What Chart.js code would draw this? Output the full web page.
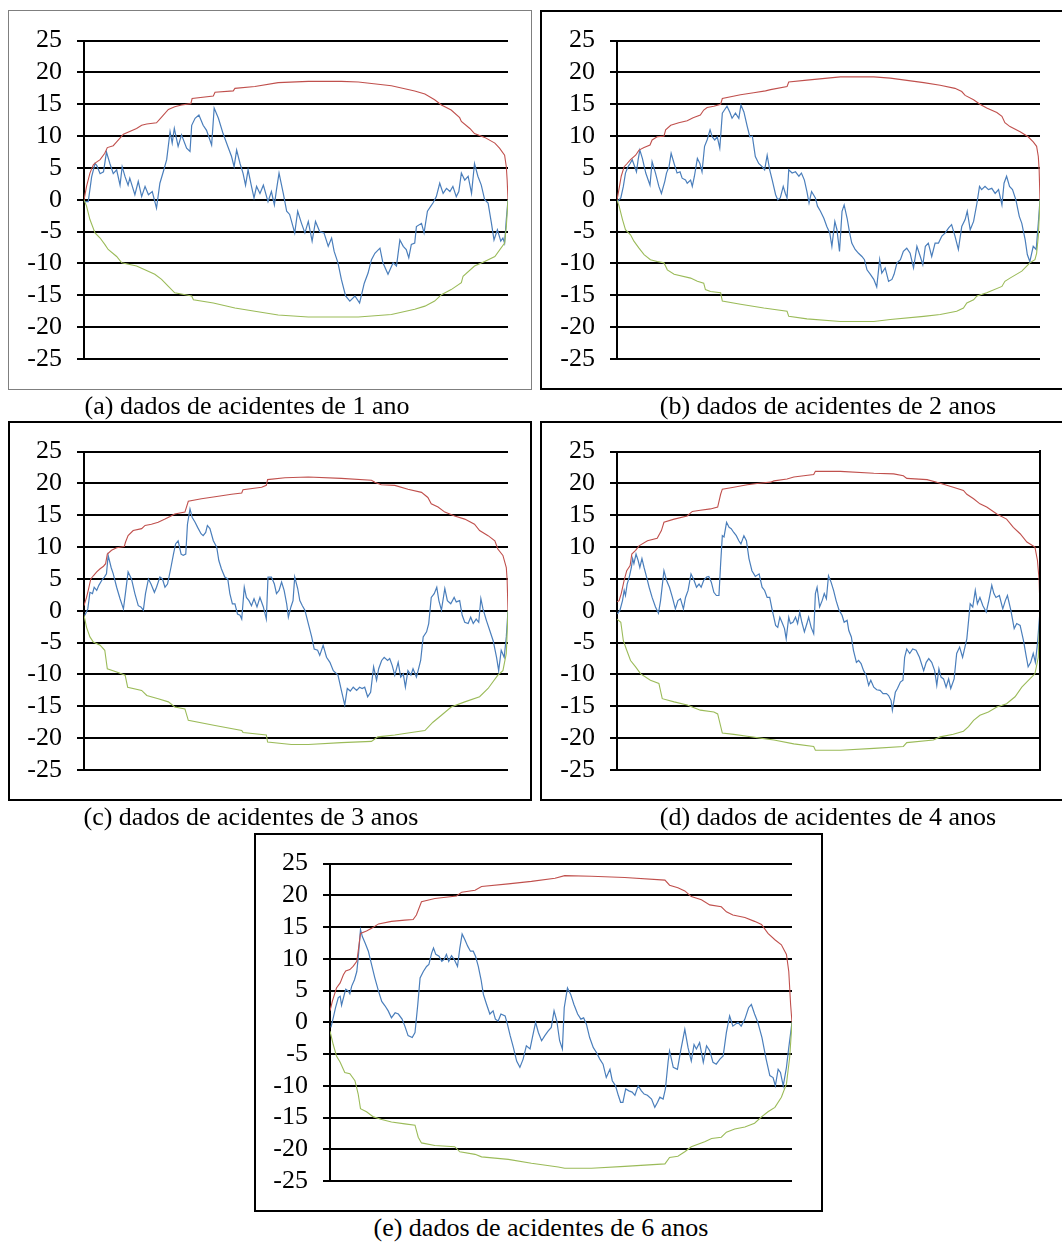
<!DOCTYPE html>
<html>
<head>
<meta charset="utf-8">
<script src="https://cdn.jsdelivr.net/npm/chart.js@4.4.0/dist/chart.umd.min.js"></script>
<style>
  body { margin: 0; background: #fff; width: 1062px; height: 1242px; overflow: hidden; position: relative; font-family: 'Liberation Serif', 'Times New Roman', serif; }
  .box { position: absolute; box-sizing: border-box; pointer-events: none; }
  .cap { position: absolute; width: 600px; font-size: 26px; line-height: 26px; color: #000; text-align: center; white-space: nowrap; }
  canvas { position: absolute; }
</style>
</head>
<body>
<script>
// y axis
const yMin = -25, yMax = 25, yStep = 5;

// x = percent of the period, y = value
const blueA = [[0.2,-0.3],[1.0,-0.3],[1.8,3.6],[2.6,5.7],[3.0,5.4],[3.8,4.1],[4.6,4.4],[5.3,7.5],[6.1,5.7],[6.9,4.1],[7.7,4.7],[8.5,2.3],[9.0,5.2],[9.7,3.6],[10.4,2.3],[10.8,3.4],[12.0,0.8],[12.8,2.9],[13.6,0.5],[14.4,2.1],[15.2,0.8],[16.1,1.3],[17.1,-1.3],[17.9,2.6],[18.7,4.4],[19.5,6.3],[20.3,10.7],[20.8,8.9],[21.3,11.2],[22.2,8.4],[23.0,10.2],[24.2,8.1],[25.0,7.6],[25.4,11.7],[26.2,12.8],[27.1,13.3],[28.1,11.7],[28.9,10.9],[30.1,8.6],[30.7,14.4],[31.7,12.8],[32.8,10.4],[33.9,8.4],[34.8,6.8],[35.4,5.2],[36.0,7.8],[36.8,5.7],[37.5,4.2],[38.1,2.3],[38.7,4.7],[39.5,2.1],[40.1,0.3],[40.7,2.1],[41.5,1.0],[42.3,2.3],[43.4,-0.3],[44.2,1.3],[44.9,-0.8],[45.4,1.6],[46.0,4.2],[47.0,1.0],[47.8,-1.8],[48.5,-2.3],[49.7,-5.2],[50.4,-1.8],[51.3,-3.7],[52.1,-5.2],[52.9,-3.4],[53.8,-6.5],[54.6,-3.4],[55.6,-5.0],[56.6,-5.2],[57.6,-7.3],[58.4,-6.0],[59.0,-8.1],[59.9,-9.9],[60.7,-12.5],[61.7,-15.1],[62.7,-15.9],[63.9,-15.1],[65.0,-16.2],[66.1,-13.1],[67.0,-11.5],[67.8,-9.4],[68.6,-8.4],[69.8,-7.6],[70.5,-9.9],[71.7,-11.7],[72.9,-9.9],[73.7,-10.4],[74.5,-6.3],[75.3,-7.3],[76.0,-7.8],[76.6,-9.1],[77.2,-7.0],[78.0,-6.8],[78.4,-4.2],[79.6,-3.7],[80.2,-5.2],[81.0,-1.8],[81.8,-1.0],[82.3,-0.5],[83.1,0.5],[83.9,2.6],[84.7,1.0],[85.5,1.8],[86.3,1.3],[87.0,2.1],[87.8,0.5],[88.4,1.3],[89.0,4.2],[89.8,3.1],[90.6,3.7],[91.4,1.0],[92.1,5.7],[92.9,3.7],[93.7,2.3],[94.5,0.0],[95.3,-0.5],[96.1,-3.7],[96.7,-6.3],[97.5,-4.7],[98.3,-6.5],[98.8,-6.0],[99.2,-6.8],[99.6,-3.1],[100,0.0]];
const redA = [[0,0],[0.6,2.1],[1.4,4.2],[2.2,5.5],[2.7,5.8],[3.8,6.3],[4.9,7.3],[5.5,8.2],[6.9,8.5],[7.7,9.1],[8.9,10.0],[9.3,10.3],[12.4,11.2],[13.6,11.7],[14.8,11.9],[17.1,12.1],[18.3,13.0],[19.9,14.2],[21.4,14.6],[23.0,14.9],[25.2,15.1],[25.5,15.9],[30.5,16.3],[30.9,16.9],[35.2,17.1],[35.6,17.5],[40.3,17.8],[45.8,18.4],[52.9,18.6],[60.7,18.6],[64.7,18.5],[72.5,17.9],[78.0,17.1],[80.4,16.6],[82.7,15.7],[84.3,14.9],[86.6,14.1],[88.6,12.9],[89.0,12.3],[91.0,11.2],[92.1,10.4],[94.5,9.8],[96.9,8.9],[98.0,8.1],[99.2,7.0],[99.6,5.2],[99.8,3.1],[100,0]];
const greenA = [[0,0],[0.6,-1.0],[1.4,-3.1],[2.6,-5.2],[3.8,-6.0],[4.9,-7.0],[5.7,-7.8],[7.7,-8.9],[8.9,-9.9],[12.4,-10.4],[16.7,-11.7],[18.3,-12.5],[19.9,-13.6],[21.4,-14.6],[25.4,-15.1],[25.8,-15.7],[30.5,-16.2],[35.6,-17.0],[40.3,-17.5],[45.8,-18.1],[52.9,-18.4],[64.7,-18.4],[72.5,-18.0],[78.0,-17.2],[80.4,-16.7],[82.7,-15.9],[84.3,-14.9],[86.6,-14.1],[89.0,-13.0],[89.4,-12.0],[92.1,-10.4],[94.5,-9.7],[96.9,-8.9],[99.2,-6.8],[99.6,-4.2],[100,0]];

const blueB = [[0.1,-0.3],[0.9,0.3],[1.5,2.1],[2.0,4.2],[2.6,5.2],[3.1,5.7],[3.6,6.3],[4.2,5.2],[4.6,4.4],[5.0,6.3],[5.4,7.8],[6.0,6.5],[6.8,4.2],[7.8,2.3],[8.3,6.0],[9.1,4.2],[9.9,2.1],[10.5,1.0],[11.3,2.9],[11.7,4.2],[12.3,5.2],[12.8,7.3],[13.5,5.7],[14.2,4.2],[14.9,4.4],[15.4,3.4],[16.2,3.1],[16.6,2.6],[17.4,3.1],[17.8,2.1],[18.3,3.7],[19.0,6.5],[19.6,5.7],[20.1,4.4],[20.7,8.4],[21.3,9.4],[22.0,11.0],[22.5,9.9],[23.1,9.4],[23.7,9.9],[24.3,8.1],[24.9,13.6],[25.4,14.1],[26.0,14.7],[26.7,13.7],[27.2,12.8],[28.0,13.6],[28.8,12.8],[29.3,14.9],[30.0,13.8],[30.8,11.5],[31.4,9.9],[32.0,10.0],[32.7,6.8],[33.5,5.7],[34.3,5.2],[34.9,4.7],[35.5,7.0],[36.1,4.7],[36.7,3.1],[37.5,0.8],[38.0,0.0],[38.6,0.3],[39.3,2.1],[39.8,1.0],[40.2,0.3],[40.6,4.7],[41.4,4.2],[42.2,4.4],[43.0,3.7],[43.6,4.2],[44.3,3.1],[44.9,1.3],[45.4,-0.5],[46.0,1.3],[46.9,0.3],[47.4,-1.0],[48.1,-1.8],[48.9,-2.9],[49.6,-4.2],[50.3,-5.2],[50.8,-7.3],[51.5,-3.4],[52.0,-4.7],[52.6,-8.1],[53.2,-1.8],[53.7,-0.8],[54.4,-2.9],[55.0,-5.2],[55.5,-6.8],[56.3,-7.8],[57.1,-8.4],[57.9,-8.9],[58.5,-9.4],[59.1,-11.0],[59.9,-11.7],[60.7,-12.5],[61.4,-13.7],[62.1,-9.4],[62.6,-11.5],[63.4,-10.7],[64.2,-12.8],[65.0,-12.5],[65.5,-11.7],[66.2,-9.9],[67.0,-9.4],[67.7,-8.1],[68.5,-7.6],[69.3,-8.4],[70.1,-10.7],[70.9,-7.3],[71.7,-8.9],[72.3,-10.2],[72.9,-7.3],[73.6,-6.8],[74.4,-8.9],[75.2,-6.8],[76.0,-6.8],[76.8,-5.7],[77.6,-5.2],[78.4,-4.4],[79.1,-3.9],[79.9,-5.7],[80.7,-7.8],[81.5,-4.2],[82.3,-3.1],[82.8,-1.8],[83.5,-4.7],[84.3,-3.4],[85.1,-0.5],[85.7,2.1],[86.2,1.6],[87.0,2.1],[87.8,1.6],[88.6,1.8],[89.4,1.0],[90.2,1.6],[91.0,-0.8],[91.5,2.6],[92.1,3.7],[92.8,2.1],[93.5,1.6],[94.3,0.0],[95.1,-2.6],[95.7,-3.7],[96.5,-6.3],[97.0,-8.6],[97.6,-9.7],[98.4,-7.3],[99.1,-7.8],[99.6,-3.7],[100,0.0]];
const redB = [[0,0],[0.5,1.8],[1.0,3.7],[1.7,5.2],[2.4,5.7],[3.2,6.3],[4.4,7.0],[5.2,7.8],[6.4,8.2],[7.8,8.6],[8.3,9.4],[9.5,9.9],[11.1,10.0],[11.5,11.0],[12.7,11.7],[14.6,12.1],[16.6,12.4],[18.0,12.9],[19.7,13.3],[20.5,14.1],[21.3,14.5],[22.9,14.7],[24.5,15.0],[24.9,15.9],[29.2,16.5],[32.3,16.8],[35.1,17.1],[36.3,17.3],[40.2,17.8],[40.6,18.5],[44.9,18.8],[52.8,19.3],[60.7,19.3],[64.6,19.1],[72.5,18.4],[76.4,18.0],[79.9,17.5],[81.5,17.0],[82.3,16.4],[84.3,15.7],[85.8,15.0],[87.4,14.4],[89.8,13.7],[91.0,13.1],[91.7,12.1],[92.9,11.5],[95.3,10.7],[97.2,9.9],[98.4,9.1],[99.2,8.4],[99.6,6.8],[99.8,4.7],[100,0]];
const greenB = [[0,0],[0.5,-1.0],[1.3,-3.1],[2.0,-4.7],[3.2,-5.5],[4.0,-6.5],[5.2,-7.6],[6.4,-8.6],[7.9,-9.4],[9.5,-9.7],[11.1,-9.9],[11.9,-11.0],[13.5,-11.7],[17.4,-12.3],[19.0,-12.8],[20.5,-13.1],[20.9,-14.1],[22.1,-14.4],[24.5,-14.6],[24.9,-15.9],[29.2,-16.4],[34.7,-17.0],[40.2,-17.5],[40.6,-18.3],[44.9,-18.7],[52.8,-19.1],[60.7,-19.1],[64.6,-18.8],[72.5,-18.3],[76.4,-18.0],[80.3,-17.5],[81.9,-17.0],[82.7,-16.2],[84.3,-15.7],[85.1,-15.1],[87.4,-14.6],[91.0,-13.6],[91.7,-12.8],[92.9,-12.3],[95.7,-11.2],[97.6,-9.9],[98.8,-9.4],[99.2,-8.4],[99.6,-5.7],[100,0]];

const blueC = [[0.2,-0.7],[0.9,0.3],[1.4,2.9],[2.0,2.7],[2.4,3.7],[3.0,3.2],[3.5,4.0],[4.2,4.8],[4.8,5.3],[5.3,5.8],[5.7,8.7],[6.4,6.8],[6.9,5.8],[7.7,3.7],[8.5,1.9],[9.3,0.3],[9.8,2.9],[10.4,6.1],[11.2,5.0],[12.0,2.7],[12.8,0.8],[13.4,0.6],[14.0,0.1],[14.5,2.7],[15.2,5.0],[15.8,4.2],[16.6,2.9],[17.1,3.7],[17.9,5.3],[18.5,5.0],[19.1,3.7],[19.7,4.2],[20.5,6.8],[21.1,8.9],[21.6,10.5],[22.2,11.0],[22.9,8.9],[23.4,8.7],[24.0,8.9],[24.4,13.6],[25.0,16.0],[25.5,14.7],[26.2,13.9],[26.8,13.1],[27.6,12.1],[28.1,11.8],[28.7,12.3],[29.1,13.4],[29.7,12.9],[30.5,11.0],[31.3,10.0],[31.8,7.9],[32.4,6.6],[33.2,5.3],[33.9,5.0],[34.4,2.7],[35.0,1.1],[35.6,1.1],[36.2,-0.5],[36.8,-0.7],[37.2,-1.3],[37.8,3.7],[38.3,2.1],[38.9,1.6],[39.5,0.8],[40.1,1.9],[40.8,0.6],[41.5,2.1],[42.3,0.6],[43.0,-1.3],[43.4,5.3],[44.2,5.3],[44.9,4.2],[45.4,2.7],[46.0,3.2],[46.6,4.5],[47.2,3.2],[47.8,1.1],[48.2,-1.0],[48.8,0.6],[49.3,1.6],[49.7,5.3],[50.4,3.5],[50.9,1.6],[51.5,0.8],[52.1,0.1],[52.9,-2.0],[53.7,-4.1],[54.3,-6.0],[55.1,-6.2],[55.6,-7.0],[56.4,-5.4],[57.2,-7.3],[58.0,-8.1],[58.8,-9.4],[59.9,-10.1],[60.7,-12.5],[61.5,-14.8],[62.1,-12.2],[62.8,-12.6],[63.5,-12.0],[64.3,-12.5],[65.0,-12.0],[65.6,-12.2],[66.2,-12.0],[66.9,-13.5],[67.6,-12.8],[68.3,-8.8],[69.0,-10.9],[69.5,-9.1],[70.2,-7.8],[70.8,-7.3],[71.6,-7.8],[72.1,-7.5],[72.7,-8.6],[73.3,-10.1],[74.1,-8.1],[74.7,-10.4],[75.3,-9.9],[75.8,-12.0],[76.4,-9.4],[77.1,-10.1],[77.6,-9.1],[78.4,-10.4],[78.8,-9.4],[79.4,-7.8],[80.0,-4.1],[80.8,-3.3],[81.3,-2.0],[81.9,2.1],[82.6,2.7],[83.2,3.7],[83.7,1.6],[84.3,0.1],[85.1,3.5],[85.7,1.6],[86.5,1.1],[87.3,2.1],[87.8,1.4],[88.6,1.6],[89.2,-0.7],[89.8,-1.8],[90.6,-2.0],[91.2,-1.0],[91.8,-2.0],[92.5,-1.3],[93.1,-1.8],[93.6,1.9],[94.1,0.3],[94.9,-1.5],[95.7,-3.1],[96.5,-4.7],[97.3,-7.3],[97.8,-9.4],[98.4,-6.2],[99.1,-7.3],[99.6,-4.1],[100,0.0]];
const redC = [[0,0.8],[0.6,2.1],[1.0,3.2],[1.6,5.0],[2.2,5.5],[3.0,6.1],[3.8,6.6],[4.6,7.0],[5.1,7.4],[5.5,8.9],[6.5,9.5],[7.7,9.9],[9.5,10.1],[9.8,10.8],[10.4,11.8],[11.6,12.6],[13.6,12.9],[14.4,13.4],[15.9,13.6],[17.5,13.9],[19.1,14.4],[20.3,14.8],[21.4,15.2],[23.8,15.5],[24.6,17.2],[27.7,17.6],[30.9,17.9],[34.8,18.3],[37.2,18.5],[37.5,19.0],[41.9,19.4],[43.0,19.7],[43.3,20.6],[47.4,20.9],[52.9,21.0],[60.7,20.8],[67.8,20.5],[68.6,20.2],[70.1,19.8],[73.3,19.7],[76.4,19.1],[79.6,18.6],[81.1,17.8],[81.9,16.8],[83.5,16.3],[85.1,15.5],[87.4,14.9],[89.8,14.4],[92.1,13.6],[93.3,12.6],[95.3,11.8],[96.9,11.0],[97.6,9.7],[98.8,8.7],[99.6,6.8],[99.8,4.8],[100,0]];
const greenC = [[0,-0.7],[0.6,-2.6],[1.4,-4.1],[2.2,-4.9],[3.8,-5.4],[4.9,-6.2],[5.5,-9.1],[7.7,-9.6],[9.7,-10.1],[10.3,-12.0],[13.6,-12.5],[14.8,-13.3],[17.5,-13.8],[19.9,-14.3],[21.4,-15.1],[23.8,-15.4],[24.6,-17.2],[30.9,-18.0],[37.2,-18.8],[37.5,-19.1],[43.0,-19.5],[43.3,-20.6],[48.9,-21.0],[52.9,-21.0],[60.7,-20.7],[67.8,-20.5],[69.3,-19.8],[73.3,-19.5],[76.4,-19.2],[80.4,-18.8],[82.3,-17.5],[84.3,-16.4],[86.6,-15.1],[89.8,-14.3],[93.3,-13.5],[95.3,-12.2],[97.6,-10.1],[98.8,-9.4],[99.6,-6.7],[100,0]];

const blueD = [[0.1,-0.5],[0.7,0.1],[1.3,1.6],[1.7,3.2],[2.0,2.4],[2.4,4.2],[2.9,5.3],[3.4,6.8],[3.7,8.2],[4.0,7.4],[4.5,8.9],[5.0,7.9],[5.4,6.8],[5.9,8.2],[6.4,6.8],[7.0,5.3],[7.6,3.7],[8.3,2.1],[9.1,0.6],[9.8,-0.4],[10.3,1.6],[11.1,6.3],[11.7,4.8],[12.4,3.7],[13.1,2.1],[13.8,0.3],[14.4,1.6],[15.0,1.9],[15.7,0.3],[16.2,2.1],[16.8,3.2],[17.5,5.8],[18.2,4.8],[18.8,3.7],[19.4,4.2],[19.9,3.7],[20.5,4.8],[21.2,5.3],[21.7,5.4],[22.3,4.5],[22.9,2.9],[23.5,2.4],[24.1,2.4],[24.5,7.4],[24.9,11.8],[25.3,11.6],[25.9,13.9],[26.5,13.1],[27.0,12.9],[27.6,12.3],[28.2,11.8],[28.8,11.0],[29.3,10.5],[30.0,11.8],[30.6,11.0],[31.2,8.2],[31.9,6.3],[32.7,5.4],[33.6,5.8],[34.3,3.7],[34.9,3.2],[35.5,2.1],[36.1,2.1],[36.7,0.1],[37.5,-2.3],[38.0,-2.6],[38.5,-1.0],[39.0,-1.8],[39.6,-2.8],[40.0,-4.4],[40.6,-1.0],[41.0,-2.0],[41.6,-1.8],[42.2,-1.0],[42.7,-2.0],[43.2,-0.2],[43.7,-1.8],[44.3,-3.3],[44.9,-2.0],[45.3,-1.0],[45.9,-2.6],[46.5,-3.6],[46.9,2.7],[47.3,3.7],[47.9,0.6],[48.5,1.6],[49.0,2.7],[49.5,1.9],[50.0,5.5],[50.6,4.5],[51.2,3.2],[51.8,1.6],[52.5,0.1],[53.2,-0.7],[53.7,-1.8],[54.4,-1.5],[54.8,-3.1],[55.4,-4.1],[55.9,-6.2],[56.6,-8.1],[57.1,-7.8],[57.7,-8.3],[58.3,-9.4],[58.9,-10.1],[59.5,-11.7],[60.0,-10.9],[60.7,-12.0],[61.4,-12.4],[62.2,-12.5],[62.9,-13.0],[63.7,-13.0],[64.2,-13.3],[64.8,-14.1],[65.1,-15.6],[65.8,-12.8],[66.3,-12.2],[67.0,-11.2],[67.6,-10.9],[68.0,-7.3],[68.5,-6.0],[69.2,-6.7],[69.9,-6.0],[70.7,-6.2],[71.5,-7.3],[72.5,-9.4],[73.1,-8.1],[73.7,-7.5],[74.4,-8.1],[75.1,-9.4],[75.6,-11.7],[76.1,-9.1],[76.6,-10.4],[77.2,-10.7],[77.8,-12.0],[78.4,-10.7],[78.9,-12.2],[79.7,-10.7],[80.3,-6.7],[81.0,-5.7],[81.7,-7.3],[82.7,-4.4],[83.5,1.1],[84.1,0.6],[84.7,3.2],[85.2,1.1],[85.8,2.1],[86.5,0.8],[87.3,-0.2],[87.9,1.6],[88.6,4.0],[89.1,2.7],[89.6,2.1],[90.4,2.4],[91.2,0.3],[91.8,1.6],[92.3,2.4],[93.1,0.1],[93.9,-2.8],[94.5,-2.0],[95.3,-2.3],[96.1,-4.7],[96.7,-7.0],[97.2,-8.8],[97.8,-8.1],[98.4,-6.7],[98.9,-8.1],[99.4,-5.2],[100,0.0]];
const redD = [[0,1.4],[0.5,1.6],[1.0,2.7],[1.7,4.8],[2.3,6.3],[3.1,7.1],[3.5,8.9],[4.4,9.5],[5.2,10.2],[7.2,11.0],[9.5,11.4],[10.5,12.6],[11.1,13.9],[13.5,14.4],[16.6,14.9],[17.8,15.6],[19.7,15.8],[22.1,16.0],[23.8,16.3],[24.5,18.3],[24.9,19.1],[27.6,19.4],[30.8,19.8],[33.1,20.0],[36.3,20.2],[37.1,20.4],[40.2,20.7],[41.8,21.0],[46.5,21.4],[46.9,21.9],[52.8,21.9],[60.7,21.6],[65.4,21.5],[67.7,21.2],[68.5,20.8],[73.3,20.6],[75.6,20.2],[79.5,19.4],[81.9,18.9],[82.7,18.3],[84.3,17.6],[85.8,16.8],[87.4,16.3],[89.8,15.2],[92.1,14.4],[93.7,13.1],[95.3,12.1],[96.9,10.8],[98.8,10.0],[99.4,7.9],[99.8,4.8],[100,0]];
const greenD = [[0,-1.3],[0.9,-1.8],[1.5,-4.7],[2.3,-6.2],[3.2,-7.8],[4.4,-8.8],[5.6,-9.9],[7.9,-10.9],[9.9,-11.4],[10.7,-13.8],[13.5,-14.3],[16.6,-14.8],[19.7,-15.6],[22.9,-15.9],[23.8,-16.2],[24.9,-19.2],[27.6,-19.4],[30.8,-19.7],[33.9,-20.0],[37.1,-20.3],[41.8,-20.9],[46.5,-21.3],[46.9,-21.9],[52.8,-21.9],[60.7,-21.6],[67.7,-21.3],[68.5,-20.7],[74.8,-20.3],[76.4,-19.8],[79.5,-19.4],[81.9,-18.9],[83.1,-18.2],[84.3,-17.2],[85.8,-16.4],[87.8,-15.9],[89.8,-15.1],[92.1,-14.6],[94.1,-13.5],[95.7,-12.0],[97.6,-10.7],[98.8,-9.9],[99.6,-7.3],[100,0]];

const blueE = [[0.2,-0.8],[0.7,0.7],[1.2,2.3],[1.8,3.9],[2.2,4.1],[2.5,2.7],[3.1,4.4],[3.4,5.2],[4.0,4.9],[4.3,4.5],[4.7,5.7],[5.3,6.7],[5.8,8.0],[6.1,10.1],[6.6,14.6],[7.0,13.5],[7.6,12.5],[8.3,11.2],[9.0,9.1],[9.7,7.0],[10.5,4.9],[11.2,3.3],[11.9,2.6],[12.6,1.8],[13.3,0.7],[14.1,1.5],[14.8,1.3],[15.6,0.5],[16.2,-0.6],[16.9,-2.1],[17.8,-2.4],[18.4,-1.6],[19.0,2.8],[19.5,7.0],[20.2,8.0],[20.9,8.8],[21.4,9.1],[22.0,10.9],[22.4,11.7],[22.9,10.7],[23.6,10.4],[24.2,9.6],[24.7,9.9],[25.2,10.7],[25.7,9.6],[26.3,10.5],[26.9,9.9],[27.6,8.8],[28.1,11.7],[28.6,13.9],[29.2,13.0],[29.8,12.0],[30.4,11.2],[31.0,11.2],[31.5,10.4],[32.1,8.8],[32.7,6.7],[33.2,4.4],[33.9,2.8],[34.6,1.3],[35.3,1.8],[35.8,0.5],[36.4,0.2],[37.0,1.3],[37.9,1.0],[38.4,-0.3],[39.0,-2.1],[39.7,-4.0],[40.4,-6.1],[41.1,-7.1],[41.8,-5.8],[42.5,-3.7],[43.3,-4.2],[43.8,-2.4],[44.5,0.0],[45.1,-1.6],[45.8,-2.9],[46.5,-2.1],[47.2,-1.4],[47.9,-0.8],[48.5,1.8],[49.1,0.2],[49.7,-2.9],[50.3,-4.2],[50.7,2.3],[51.4,5.4],[52.1,4.4],[52.8,2.8],[53.6,1.3],[54.3,0.5],[54.9,0.7],[55.5,-0.3],[56.2,-2.4],[57.0,-4.0],[57.7,-4.8],[58.4,-5.8],[59.1,-6.6],[59.8,-8.7],[60.6,-7.4],[61.1,-9.2],[61.8,-10.0],[62.4,-11.5],[62.9,-12.6],[63.4,-12.6],[64.0,-10.5],[64.7,-10.8],[65.4,-11.0],[66.0,-11.5],[66.7,-10.0],[67.4,-10.8],[68.0,-11.3],[68.7,-11.5],[69.6,-12.1],[70.3,-13.4],[70.9,-12.6],[71.4,-11.8],[72.1,-12.1],[72.6,-10.5],[73.2,-6.1],[73.5,-4.5],[74.3,-7.1],[75.2,-7.4],[75.9,-4.5],[76.8,-1.1],[77.5,-4.0],[78.2,-6.1],[78.8,-3.5],[79.3,-4.2],[80.0,-3.2],[80.8,-6.3],[81.5,-3.7],[82.2,-4.5],[82.9,-6.3],[83.6,-6.6],[84.4,-5.8],[85.1,-5.3],[85.8,-1.6],[86.5,1.0],[87.2,-0.6],[88.3,0.0],[89.0,-0.6],[89.8,0.5],[90.6,2.3],[91.2,2.8],[91.9,1.3],[92.6,0.0],[93.5,-2.4],[94.4,-5.8],[95.2,-8.4],[95.9,-8.7],[96.4,-10.0],[97.0,-7.4],[97.5,-7.9],[98.1,-10.0],[98.8,-7.1],[99.3,-4.0],[100,0.0]];
const redE = [[0,1.8],[0.5,3.3],[1.4,5.4],[2.2,6.2],[2.9,7.5],[3.4,8.1],[4.3,8.3],[5.0,8.8],[5.8,9.6],[6.1,11.2],[6.6,14.0],[7.9,14.4],[9.0,14.8],[10.5,15.5],[13.3,15.9],[16.2,16.1],[18.0,16.2],[18.7,16.9],[19.8,19.0],[22.7,19.5],[27.4,19.9],[28.5,20.5],[31.4,20.8],[32.8,21.4],[38.6,21.8],[43.6,22.2],[48.7,22.7],[50.8,23.1],[56.6,23.0],[63.8,22.8],[72.5,22.4],[73.5,21.6],[75.3,21.2],[76.8,20.7],[78.2,19.8],[80.4,19.3],[82.2,18.5],[84.7,18.2],[85.8,17.4],[87.2,16.9],[89.8,16.5],[91.9,15.9],[93.4,15.4],[94.8,14.0],[96.3,13.0],[97.7,12.2],[98.8,10.7],[99.3,8.0],[99.7,2.8],[100,0]];
const greenE = [[0,-1.4],[0.7,-3.5],[1.4,-5.3],[2.2,-6.3],[3.2,-7.9],[4.3,-8.1],[5.4,-9.2],[6.1,-11.3],[6.6,-13.6],[7.9,-14.1],[9.4,-14.9],[11.2,-15.3],[13.3,-15.7],[16.2,-16.0],[18.4,-16.2],[19.1,-18.1],[19.8,-19.0],[22.7,-19.4],[27.0,-19.6],[28.1,-20.4],[31.4,-20.8],[32.8,-21.2],[38.6,-21.6],[43.6,-22.2],[49.4,-22.8],[50.8,-23.0],[56.6,-23.0],[63.8,-22.7],[72.5,-22.3],[73.5,-21.3],[75.3,-21.1],[76.8,-20.4],[78.2,-19.6],[81.1,-18.8],[82.6,-18.3],[84.7,-18.1],[85.8,-17.3],[87.6,-16.8],[89.8,-16.5],[91.9,-15.9],[93.4,-14.9],[94.8,-14.1],[96.3,-13.4],[97.7,-11.8],[98.8,-9.7],[99.5,-5.5],[100,0]];

const captions = ['(a) dados de acidentes de 1 ano', '(b) dados de acidentes de 2 anos', '(c) dados de acidentes de 3 anos', '(d) dados de acidentes de 4 anos', '(e) dados de acidentes de 6 anos'];

// page geometry: box [x, y, w, h, border, colour], plot [left, top, right, bottom], caption [centre x, top]
const panels = [
  { blue: blueA, red: redA, green: greenA, box: [8, 10, 524, 380, 1, '#7f7f7f'], plot: [84, 40, 508, 359], cap: [247, 393] },
  { blue: blueB, red: redB, green: greenB, box: [540, 10, 530, 380, 2, '#000'], plot: [617, 40, 1040, 359], cap: [828, 393] },
  { blue: blueC, red: redC, green: greenC, box: [8, 421, 524, 380, 2, '#000'], plot: [84, 451, 508, 770], cap: [251, 804] },
  { blue: blueD, red: redD, green: greenD, box: [540, 421, 530, 380, 2, '#000'], plot: [617, 451, 1040, 770], cap: [828, 804], rightEdge: true },
  { blue: blueE, red: redE, green: greenE, box: [254, 833, 569, 379, 2, '#000'], plot: [330, 862, 792, 1181], cap: [541, 1215] }
];

const toXY = arr => arr.map(([x, y]) => ({ x, y }));

panels.forEach((p, i) => {
  const [bx, by, bw, bh, bwid, bcol] = p.box;
  const [pl, pt, pr, pb] = p.plot;

  const canvas = document.createElement('canvas');
  canvas.width = bw; canvas.height = bh;
  canvas.style.left = bx + 'px'; canvas.style.top = by + 'px';
  document.body.appendChild(canvas);

  const frame = document.createElement('div');
  frame.className = 'box';
  Object.assign(frame.style, { left: bx + 'px', top: by + 'px', width: bw + 'px', height: bh + 'px', border: bwid + 'px solid ' + bcol });
  document.body.appendChild(frame);

  if (p.rightEdge) {
    const edge = document.createElement('div');
    edge.className = 'box';
    Object.assign(edge.style, { left: (pr - 1) + 'px', top: (pt - 1) + 'px', width: '2px', height: (pb - pt + 2) + 'px', background: '#000' });
    document.body.appendChild(edge);
  }

  const cap = document.createElement('div');
  cap.className = 'cap';
  cap.textContent = captions[i];
  cap.style.left = (p.cap[0] - 300) + 'px';
  cap.style.top = p.cap[1] + 'px';
  document.body.appendChild(cap);

  const yWidth = pl - bx;

  new Chart(canvas.getContext('2d'), {
    type: 'line',
    data: {
      datasets: [
        { data: toXY(p.red), borderColor: '#c0504d', borderWidth: 1.1 },
        { data: toXY(p.green), borderColor: '#9bbb59', borderWidth: 1.1 },
        { data: toXY(p.blue), borderColor: '#4a7ebb', borderWidth: 1.2 }
      ]
    },
    options: {
      responsive: false,
      animation: false,
      devicePixelRatio: 1,
      parsing: true,
      elements: { point: { radius: 0 }, line: { tension: 0 } },
      layout: { padding: { left: 0, top: pt - by, right: bx + bw - pr, bottom: by + bh - pb } },
      plugins: { legend: { display: false }, tooltip: { enabled: false } },
      scales: {
        x: { type: 'linear', min: 0, max: 100, display: false },
        y: {
          min: yMin, max: yMax,
          afterFit: scale => { scale.width = yWidth; },
          border: { display: true, color: '#000', width: 2 },
          grid: { color: '#000', lineWidth: 2, tickLength: 7, tickColor: '#000', tickWidth: 2 },
          ticks: {
            stepSize: yStep, autoSkip: false, padding: 15, color: '#000',
            font: { family: "'Liberation Serif', 'Times New Roman', serif", size: 26 }
          }
        }
      }
    }
  });
});
</script>
</body>
</html>
